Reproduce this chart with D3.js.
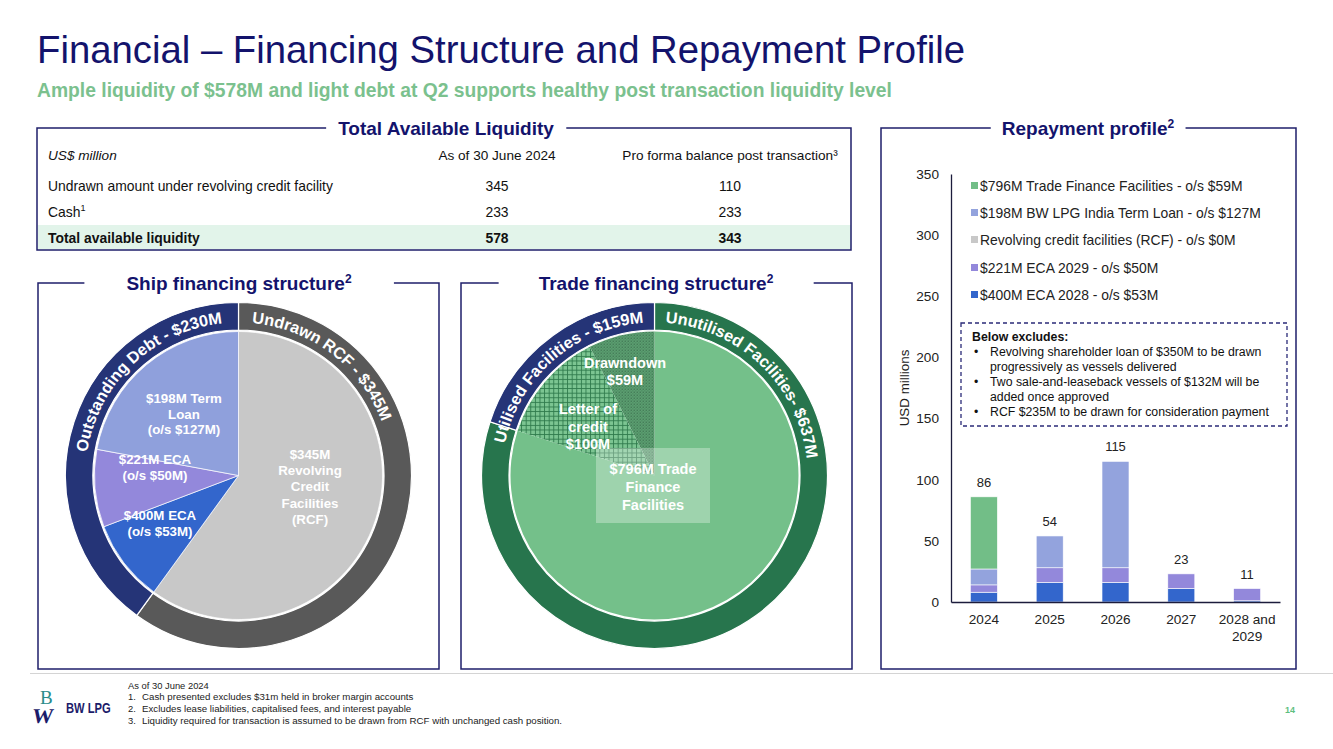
<!DOCTYPE html>
<html><head><meta charset="utf-8">
<script src="https://cdn.jsdelivr.net/npm/d3@7"></script>
<style>
body{margin:0;background:#fff;}
svg text{font-family:"Liberation Sans",Arial,Helvetica,sans-serif;}
</style>
</head><body>
<svg id="c" width="1333" height="749"></svg>
<script>
// ---------------- DATA ----------------
const tableHeader = ["US$ million", "As of 30 June 2024", "Pro forma balance post transaction\u00b3"];
const tableRows = ["Undrawn amount under revolving credit facility", "Cash", "Total available liquidity"];
const liquidityQ2 = [345, 233, 578];
const liquidityProForma = [110, 233, 343];

const shipOuterLabels = ["Undrawn RCF - $345M", "Outstanding Debt - $230M"];
const shipOuterValues = [345, 230];
const shipInnerNames = ["RCF", "$400M ECA", "$221M ECA", "$198M Term Loan"];
const shipInnerValues = [345, 53, 50, 127];

const tradeOuterLabels = ["Unutilised Facilities- $637M", "Utilised Facilities - $159M"];
const tradeOuterValues = [637, 159];
const tradeInnerNames = ["Unutilised", "Letter of credit", "Drawdown"];
const tradeInnerValues = [637, 100, 59];

const years = ["2024", "2025", "2026", "2027", "2028 and 2029"];
const seriesKeys = ["eca2028", "eca2029", "rcf", "termLoan", "tradeFinance"];
const seriesNames = ["$400M ECA 2028 - o/s $53M", "$221M ECA 2029 - o/s $50M",
  "Revolving credit facilities (RCF) - o/s $0M", "$198M BW LPG India Term Loan - o/s $127M",
  "$796M Trade Finance Facilities - o/s $59M"];
const eca2028 = [8, 16, 16, 11, 1];
const eca2029 = [6, 12, 12, 12, 10];
const rcf = [0, 0, 0, 0, 0];
const termLoan = [13, 26, 87, 0, 0];
const tradeFinance = [59, 0, 0, 0, 0];
const yTicks = [0, 50, 100, 150, 200, 250, 300, 350];

const excludesNotes = [
  ["Revolving shareholder loan of $350M to be drawn", "progressively as vessels delivered"],
  ["Two sale-and-leaseback vessels of $132M will be", "added once approved"],
  ["RCF $235M to be drawn for consideration payment"]
];
const footnotes = ["As of 30 June 2024",
  "Cash presented excludes $31m held in broker margin accounts",
  "Excludes lease liabilities, capitalised fees, and interest payable",
  "Liquidity required for transaction is assumed to be drawn from RCF with unchanged cash position."];

// ---------------- STYLE ----------------
const NAVY = "#13136c";
const BORDER = "#1f1f6b";
const svg = d3.select("#c");

// defs / patterns
const defs = svg.append("defs");
const pGrid = defs.append("pattern").attr("id", "gridPat").attr("patternUnits", "userSpaceOnUse")
  .attr("width", 4.6).attr("height", 4.6);
pGrid.append("rect").attr("width", 4.6).attr("height", 4.6).attr("fill", "#7cc592");
pGrid.append("path").attr("d", "M0 0.5H4.6M0.5 0V4.6").attr("stroke", "#2e7a4c").attr("stroke-width", 0.9);
const pDot = defs.append("pattern").attr("id", "dotPat").attr("patternUnits", "userSpaceOnUse")
  .attr("width", 3).attr("height", 3);
pDot.append("rect").attr("width", 3).attr("height", 3).attr("fill", "#78c08d");
pDot.append("rect").attr("width", 1.6).attr("height", 1.6).attr("fill", "#2c5f3f");
pDot.append("rect").attr("x", 1.5).attr("y", 1.5).attr("width", 1.5).attr("height", 1.5).attr("fill", "#3c7a52");

// ---------------- TITLE ----------------
svg.append("text").attr("x", 37).attr("y", 63).attr("font-size", 38.3).attr("fill", NAVY)
  .text("Financial \u2013 Financing Structure and Repayment Profile");
svg.append("text").attr("x", 37).attr("y", 97).attr("font-size", 19.3).attr("font-weight", "bold")
  .attr("fill", "#7bc18e")
  .text("Ample liquidity of $578M and light debt at Q2 supports healthy post transaction liquidity level");

// ---------------- PANELS ----------------
function panel(x0, y0, x1, y1, title, sup, cx, pad) {
  const g = svg.append("g");
  const t = g.append("text").attr("x", cx).attr("y", y0 + 7).attr("text-anchor", "middle")
    .attr("font-size", 19).attr("font-weight", "bold").attr("fill", NAVY).text(title);
  if (sup) t.append("tspan").attr("font-size", 12).attr("dy", -7).text(sup);
  const bb = t.node().getBBox();
  const L = bb.x - pad, R = bb.x + bb.width + pad;
  g.append("path").attr("fill", "none").attr("stroke", BORDER).attr("stroke-width", 1.5)
    .attr("d", `M${L},${y0}H${x0}V${y1}H${x1}V${y0}H${R}`);
}

// ---------------- TABLE ----------------
svg.append("rect").attr("x", 38).attr("y", 225).attr("width", 813).attr("height", 24).attr("fill", "#e2f4ea");
panel(37, 128, 851, 250, "Total Available Liquidity", null, 446, 12);
const colX = [48, 497, 730];
const rowY = [186, 212, 238];
tableHeader.forEach((h, i) => {
  svg.append("text").attr("x", colX[i]).attr("y", 160).attr("font-size", 13.6)
    .attr("text-anchor", i === 0 ? "start" : "middle").attr("font-style", i === 0 ? "italic" : "normal")
    .attr("fill", "#111").text(h);
});
tableRows.forEach((r, i) => {
  const bold = i === 2 ? "bold" : "normal";
  const t = svg.append("text").attr("x", colX[0]).attr("y", rowY[i] + 5).attr("font-size", 13.9)
    .attr("font-weight", bold).attr("fill", "#111").text(r);
  if (i === 1) t.append("tspan").attr("font-size", 9).attr("dy", -6).text("1");
  svg.append("text").attr("x", colX[1]).attr("y", rowY[i] + 5).attr("font-size", 13.9).attr("text-anchor", "middle")
    .attr("font-weight", bold).attr("fill", "#111").text(liquidityQ2[i]);
  svg.append("text").attr("x", colX[2]).attr("y", rowY[i] + 5).attr("font-size", 13.9).attr("text-anchor", "middle")
    .attr("font-weight", bold).attr("fill", "#111").text(liquidityProForma[i]);
});

// ---------------- DONUTS ----------------
const R_OUT = 173, R_IN = 145.5, R_PIE = 144;
const pie = d3.pie().sort(null).value(d => d).startAngle(0).endAngle(2 * Math.PI);
const ringArc = d3.arc().innerRadius(R_IN).outerRadius(R_OUT);
const pieArc = d3.arc().innerRadius(0).outerRadius(R_PIE);

// curved ring label: each glyph placed and rotated along the ring
function ringText(g, label, angleDeg, anchor) {
  const size = 16.3, r = 153;
  const tmp = svg.append("text").attr("font-size", size).attr("font-weight", "bold").text(label);
  const node = tmp.node();
  const widths = label.split("").map((c, i) => node.getSubStringLength(i, 1));
  const total = widths.reduce((a, b) => a + b, 0);
  tmp.remove();
  let s = anchor === "end" ? angleDeg * Math.PI / 180 * r - total : angleDeg * Math.PI / 180 * r;
  label.split("").forEach((c, i) => {
    const mid = s + widths[i] / 2;
    const deg = mid / r * 180 / Math.PI;
    if (c !== " ") {
      g.append("text").attr("transform", `rotate(${deg}) translate(0,${-r})`)
        .attr("text-anchor", "middle").attr("font-size", size).attr("font-weight", "bold")
        .attr("fill", "#fff").text(c);
    }
    s += widths[i];
  });
}

// Ship financing
panel(38, 283, 439, 669, "Ship financing structure", "2", 239, 42);
const ship = svg.append("g").attr("transform", "translate(238.5,475.5)");
const shipOuterColors = ["#595959", "#253477"];
const shipInnerColors = ["#c8c8c8", "#3366cc", "#9388db", "#8fa0dc"];
ship.selectAll("path.in").data(pie(shipInnerValues)).join("path").attr("class", "in")
  .attr("d", pieArc).attr("fill", (d, i) => shipInnerColors[i]).attr("stroke", "#fff").attr("stroke-width", 0.7);
ship.selectAll("path.out").data(pie(shipOuterValues)).join("path").attr("class", "out")
  .attr("d", ringArc).attr("fill", (d, i) => shipOuterColors[i]).attr("stroke", "#fff").attr("stroke-width", 1.2);
ringText(ship, shipOuterLabels[0], 5, "start");
ringText(ship, shipOuterLabels[1], 354, "end");

function multiLabel(g, x, y, lines, size, lh) {
  lines.forEach((l, i) => g.append("text").attr("x", x).attr("y", y + i * lh).attr("text-anchor", "middle")
    .attr("font-size", size).attr("font-weight", "bold").attr("fill", "#fff").text(l));
}
multiLabel(svg, 184, 403, ["$198M Term", "Loan", "(o/s $127M)"], 13.3, 15.6);
multiLabel(svg, 155, 464, ["$221M ECA", "(o/s $50M)"], 13.3, 16);
multiLabel(svg, 160, 520, ["$400M ECA", "(o/s $53M)"], 13.3, 15.6);
multiLabel(svg, 310, 459, ["$345M", "Revolving", "Credit", "Facilities", "(RCF)"], 13.3, 16.2);

// Trade financing
panel(461, 283, 852, 669, "Trade financing structure", "2", 656, 40);
const trade = svg.append("g").attr("transform", "translate(654.5,475.5)");
const tradeOuterColors = ["#27754d", "#253477"];
const tradeInnerFills = ["#74c08a", "url(#gridPat)", "url(#dotPat)"];
trade.selectAll("path.in").data(pie(tradeInnerValues)).join("path").attr("class", "in")
  .attr("d", pieArc).attr("fill", (d, i) => tradeInnerFills[i]);
trade.selectAll("path.out").data(pie(tradeOuterValues)).join("path").attr("class", "out")
  .attr("d", ringArc).attr("fill", (d, i) => tradeOuterColors[i]).attr("stroke", "#fff").attr("stroke-width", 1.2);
ringText(trade, tradeOuterLabels[0], 4, "start");
ringText(trade, tradeOuterLabels[1], 356, "end");
svg.append("rect").attr("x", 596).attr("y", 448).attr("width", 114).attr("height", 75)
  .attr("fill", "#ffffff").attr("fill-opacity", 0.3);
multiLabel(svg, 625, 368, ["Drawndown", "$59M"], 14.5, 17.2);
multiLabel(svg, 588, 414, ["Letter of", "credit", "$100M"], 14.5, 17.5);
multiLabel(svg, 653, 474, ["$796M Trade", "Finance", "Facilities"], 14.5, 18);

// ---------------- REPAYMENT BAR CHART ----------------
panel(881, 128, 1296, 669, "Repayment profile", "2", 1088, 11);
const seriesData = {eca2028, eca2029, rcf, termLoan, tradeFinance};
const seriesColors = ["#3366cc", "#9388db", "#c8c8c8", "#93a3dd", "#72be87"];
const rows = years.map((y, i) => {
  const o = {year: y};
  seriesKeys.forEach(k => o[k] = seriesData[k][i]);
  return o;
});
const stacked = d3.stack().keys(seriesKeys)(rows);
const x = d3.scaleBand().domain(years).range([951, 1280]).paddingInner(0.59).paddingOuter(0.295);
const y = d3.scaleLinear().domain([0, 350]).range([602, 174]);

const barG = svg.append("g");
barG.selectAll("g").data(stacked).join("g").attr("fill", (d, i) => seriesColors[i])
  .selectAll("rect").data(d => d).join("rect")
  .attr("x", d => x(d.data.year)).attr("width", x.bandwidth())
  .attr("y", d => y(d[1])).attr("height", d => Math.max(0, y(d[0]) - y(d[1])))
  .attr("stroke", "#fff").attr("stroke-width", d => (d[1] - d[0]) > 0 ? 0.6 : 0);

// totals
const totals = rows.map(r => seriesKeys.reduce((s, k) => s + r[k], 0));
svg.append("g").selectAll("text").data(rows).join("text")
  .attr("x", d => x(d.year) + x.bandwidth() / 2)
  .attr("y", (d, i) => y(totals[i]) - 10)
  .attr("text-anchor", "middle").attr("font-size", 13).attr("fill", "#222")
  .text((d, i) => totals[i]);

// axes
const yAxis = svg.append("g").attr("transform", "translate(951,0)")
  .call(d3.axisLeft(y).tickValues(yTicks).tickSize(0).tickPadding(12));
yAxis.select(".domain").attr("stroke", "#1c1c3c").attr("stroke-width", 1.3);
yAxis.selectAll("text").attr("font-size", 13.6).attr("fill", "#222")
  .style("font-family", '"Liberation Sans", Arial, sans-serif');
const xAxis = svg.append("g").attr("transform", "translate(0,602)")
  .call(d3.axisBottom(x).tickSize(0).tickPadding(11).tickFormat(""));
xAxis.select(".domain").attr("stroke", "#1c1c3c").attr("stroke-width", 1.3);
xAxis.selectAll(".tick").each(function (d) {
  const words = d === "2028 and 2029" ? ["2028 and", "2029"] : [d];
  const t = d3.select(this).append("text").attr("y", 22).attr("text-anchor", "middle")
    .attr("font-size", 13.6).attr("fill", "#222")
    .style("font-family", '"Liberation Sans", Arial, sans-serif');
  words.forEach((w, i) => t.append("tspan").attr("x", 0).attr("dy", i === 0 ? 0 : 16.5).text(w));
});
svg.append("text").attr("transform", "translate(909,388) rotate(-90)").attr("text-anchor", "middle")
  .attr("font-size", 13.4).attr("fill", "#222").text("USD millions");

// legend (top to bottom reverse stack order)
const legendY = [186, 213, 240, 268, 295];
const legOrder = [4, 3, 2, 1, 0];
legOrder.forEach((si, j) => {
  svg.append("rect").attr("x", 971).attr("y", legendY[j] - 4).attr("width", 7).attr("height", 7)
    .attr("fill", seriesColors[si]);
  svg.append("text").attr("x", 980).attr("y", legendY[j] + 5).attr("font-size", 13.9).attr("fill", "#222")
    .text(seriesNames[si]);
});

// excludes box
svg.append("rect").attr("x", 961).attr("y", 323).attr("width", 326).attr("height", 103)
  .attr("fill", "none").attr("stroke", "#2a2a78").attr("stroke-width", 1.3).attr("stroke-dasharray", "4,3");
svg.append("text").attr("x", 972).attr("y", 340.5).attr("font-size", 12.3).attr("font-weight", "bold")
  .attr("fill", "#111").text("Below excludes:");
let ly = 355.5;
excludesNotes.forEach(note => {
  svg.append("text").attr("x", 974).attr("y", ly).attr("font-size", 12.3).attr("fill", "#111").text("\u2022");
  note.forEach(line => {
    svg.append("text").attr("x", 990).attr("y", ly).attr("font-size", 12.3).attr("fill", "#111").text(line);
    ly += 15;
  });
});

// ---------------- FOOTER ----------------
svg.append("line").attr("x1", 30).attr("x2", 1333).attr("y1", 673.5).attr("y2", 673.5)
  .attr("stroke", "#d4d4d4").attr("stroke-width", 1.2);
footnotes.forEach((f, i) => {
  const yy = 688.5 + i * 11.7;
  if (i === 0) {
    svg.append("text").attr("x", 128).attr("y", yy).attr("font-size", 9.4).attr("fill", "#222").text(f);
  } else {
    svg.append("text").attr("x", 128).attr("y", yy).attr("font-size", 9.4).attr("fill", "#222").text(i + ".");
    svg.append("text").attr("x", 142).attr("y", yy).attr("font-size", 9.7).attr("fill", "#222").text(f);
  }
});
// logo
const logo = svg.append("g");
logo.append("text").attr("x", 40).attr("y", 704).attr("font-size", 19)
  .style("font-family", '"Liberation Serif", serif').attr("fill", "#2a8c8a").text("B");
logo.append("text").attr("x", 33).attr("y", 723).attr("font-size", 21).attr("font-weight", "bold")
  .style("font-family", '"Liberation Serif", serif').attr("fill", "#1c1c6a")
  .attr("transform", "skewX(-8) translate(100,0)").text("W");
logo.append("text").attr("transform", "translate(66,713) scale(0.8,1)").attr("font-size", 14)
  .attr("font-weight", "bold").attr("fill", "#1c1c6a").text("BW LPG");
svg.append("text").attr("x", 1290).attr("y", 713).attr("text-anchor", "middle").attr("font-size", 9)
  .attr("font-weight", "bold").attr("fill", "#5fbf7f").text("14");
</script>
</body></html>
